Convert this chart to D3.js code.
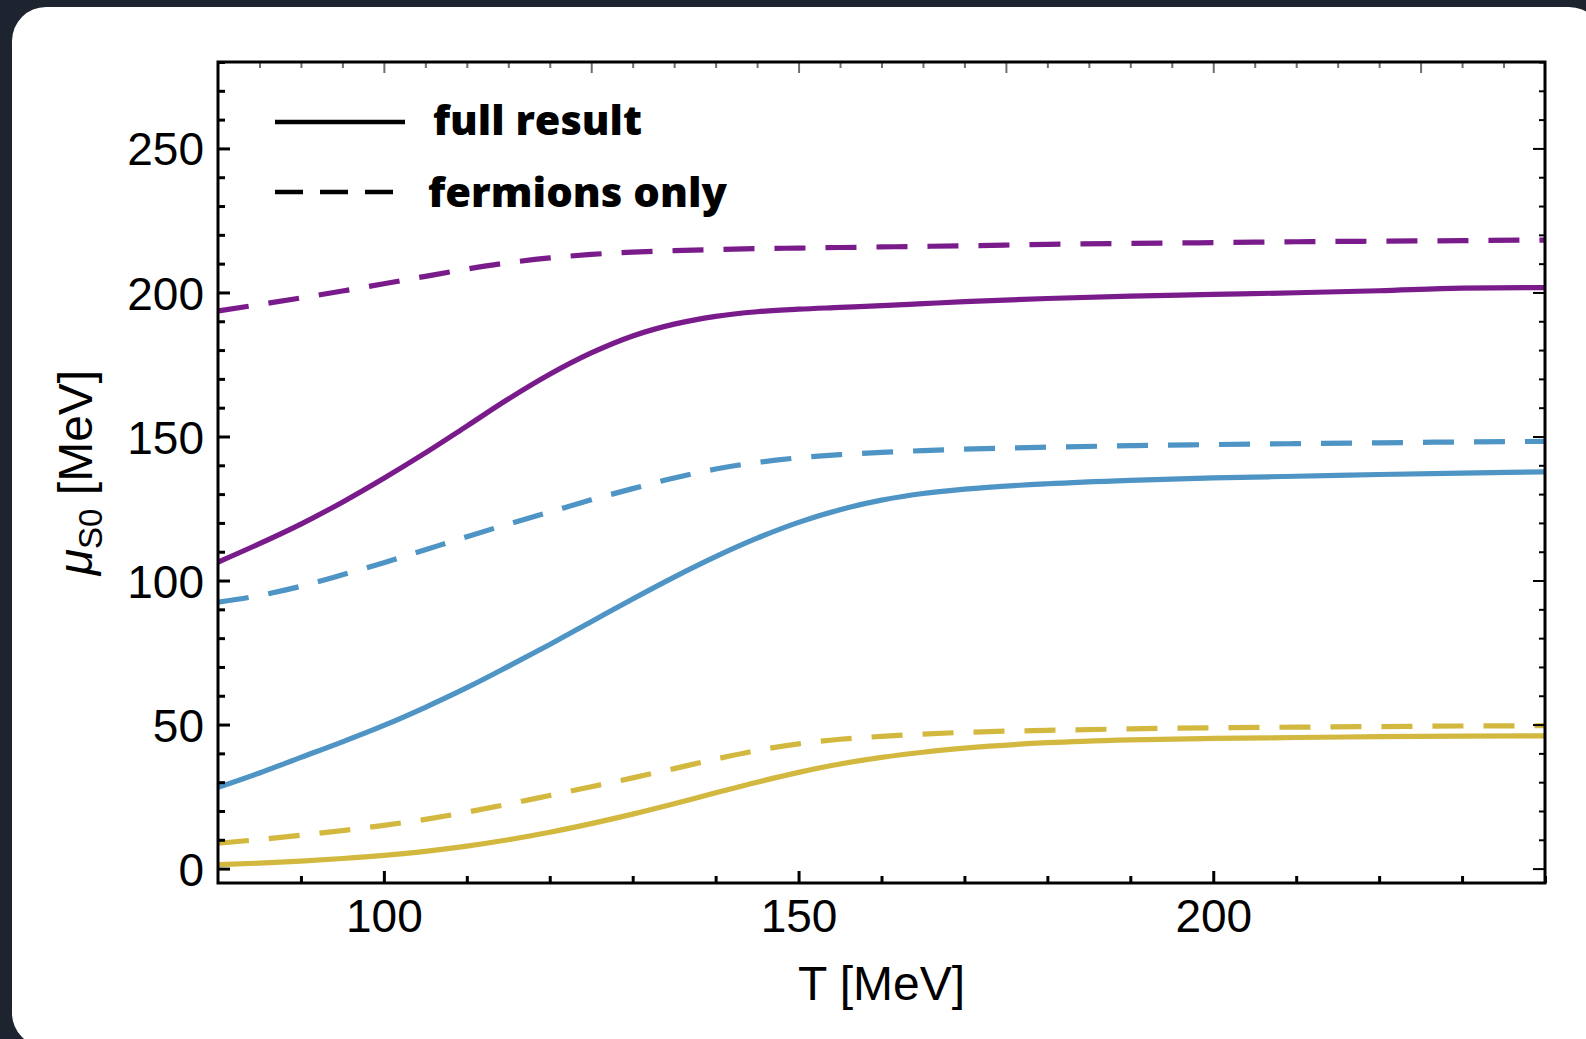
<!DOCTYPE html>
<html>
<head>
<meta charset="utf-8">
<script src="https://cdn.jsdelivr.net/npm/d3@7"></script>
<style>
  html, body { margin: 0; padding: 0; background: #1e2330; }
  svg { display: block; }
</style>
</head>
<body>
<svg id="chart" width="1586" height="1039"></svg>
<script>
// Temperature grid (MeV)
const T = [80, 85, 90, 95, 100, 105, 110, 115, 120, 125, 130, 135, 140, 145, 150,
           155, 160, 165, 170, 180, 190, 200, 210, 220, 230, 240];

// Strangeness chemical potential mu_S0 (MeV) — full result
const purpleFull = [106.4, 112.8, 119.6, 127.2, 135.5, 144.3, 153.6, 163.0, 171.6, 179.0,
                    184.9, 189.0, 191.7, 193.3, 194.2, 194.8, 195.4, 196.1, 196.8, 197.9,
                    198.7, 199.3, 199.9, 200.6, 201.5, 201.7];
const blueFull   = [28.2, 33.2, 38.6, 44.0, 49.7, 56.0, 62.8, 70.2, 77.8, 85.7,
                    93.6, 101.2, 108.3, 114.7, 120.2, 124.6, 127.9, 130.2, 131.7, 133.6,
                    134.8, 135.6, 136.2, 136.8, 137.3, 137.7];
const yellowFull = [1.4, 1.9, 2.6, 3.5, 4.6, 6.0, 7.8, 10.0, 12.6, 15.6,
                    18.9, 22.5, 26.3, 30.0, 33.4, 36.3, 38.6, 40.4, 41.8, 43.7,
                    44.7, 45.2, 45.5, 45.8, 46.0, 46.1];

// mu_S0 (MeV) — fermions only
const purpleFerm = [193.6, 195.8, 198.1, 200.5, 203.0, 205.6, 208.1, 210.3, 212.0, 213.2,
                    214.0, 214.5, 214.9, 215.2, 215.4, 215.6, 215.8, 216.0, 216.2, 216.7,
                    217.0, 217.3, 217.6, 217.8, 218.0, 218.2];
const blueFerm   = [92.5, 94.8, 98.0, 102.0, 106.2, 110.7, 115.2, 119.6, 123.8, 128.0,
                    131.9, 135.6, 138.7, 141.0, 142.6, 143.7, 144.5, 145.1, 145.6, 146.3,
                    146.8, 147.2, 147.5, 147.8, 148.1, 148.3];
const yellowFerm = [8.8, 10.1, 11.6, 13.2, 15.0, 17.1, 19.6, 22.4, 25.4, 28.4,
                    31.5, 34.7, 38.0, 41.0, 43.3, 44.9, 45.9, 46.7, 47.3, 48.0,
                    48.5, 48.9, 49.1, 49.3, 49.5, 49.6];

// Axis ticks
const xMajor = [100, 150, 200];
const xMinor = d3.range(90, 241, 10).filter(v => !xMajor.includes(v));
const xTopMajor = [100, 125, 150, 175, 200, 225];
const xTopMinor = d3.range(85, 240, 5).filter(v => !xTopMajor.includes(v));
const yMajor = [0, 50, 100, 150, 200, 250];
const yMinor = d3.range(0, 281, 10).filter(v => !yMajor.includes(v));

const legendItems = [
  { label: "full result", dashed: false },
  { label: "fermions only", dashed: true }
];

const series = [
  { values: purpleFull, color: "#7a1b8b", dashed: false },
  { values: purpleFerm, color: "#7a1b8b", dashed: true },
  { values: blueFull,   color: "#4e94c4", dashed: false },
  { values: blueFerm,   color: "#4e94c4", dashed: true },
  { values: yellowFull, color: "#d3b83f", dashed: false },
  { values: yellowFerm, color: "#d3b83f", dashed: true }
];

const svg = d3.select("#chart");

// white card
svg.append("rect")
  .attr("x", 12).attr("y", 7)
  .attr("width", 1591).attr("height", 1040)
  .attr("rx", 34).attr("ry", 34)
  .attr("fill", "#ffffff");

const L = 218, R = 1545, Tp = 62, B = 883;
const x = d3.scaleLinear().domain([80, 240]).range([L, R]);
const y = d3.scaleLinear().domain([-5, 280]).range([B, Tp]);

svg.append("clipPath").attr("id", "plot-clip")
  .append("rect").attr("x", L).attr("y", Tp).attr("width", R - L).attr("height", B - Tp);

const line = d3.line()
  .x(d => x(d[0]))
  .y(d => y(d[1]))
  .curve(d3.curveMonotoneX);

const plot = svg.append("g").attr("clip-path", "url(#plot-clip)");
plot.selectAll("path.curve")
  .data(series)
  .join("path")
  .attr("class", "curve")
  .attr("d", s => line(T.map((t, i) => [t, s.values[i]])))
  .attr("fill", "none")
  .attr("stroke", s => s.color)
  .attr("stroke-width", 5.2)
  .attr("stroke-dasharray", s => s.dashed ? "31,20" : null);

// axes with inward ticks
const font = "'Liberation Sans', Arial, Helvetica, sans-serif";

function styleAxis(g, color, width) {
  g.select(".domain").remove();
  g.selectAll(".tick line").attr("stroke", color).attr("stroke-width", width);
  g.selectAll(".tick text").attr("fill", "#000").style("font-family", font).style("font-size", "46px");
}

// left
svg.append("g").attr("transform", `translate(${L},0)`)
  .call(d3.axisLeft(y).tickValues(yMajor).tickSize(-12).tickPadding(14).tickFormat(d3.format("d")))
  .call(g => styleAxis(g, "#000", 3))
  .call(g => g.selectAll(".tick text").attr("dy", "0.36em"));
svg.append("g").attr("transform", `translate(${L},0)`)
  .call(d3.axisLeft(y).tickValues(yMinor).tickSize(-7).tickFormat(""))
  .call(g => styleAxis(g, "#000", 3));

// right
svg.append("g").attr("transform", `translate(${R},0)`)
  .call(d3.axisRight(y).tickValues(yMajor).tickSize(-12).tickFormat(""))
  .call(g => styleAxis(g, "#000", 2));
svg.append("g").attr("transform", `translate(${R},0)`)
  .call(d3.axisRight(y).tickValues(yMinor).tickSize(-6).tickFormat(""))
  .call(g => styleAxis(g, "#000", 2));

// bottom
svg.append("g").attr("transform", `translate(0,${B})`)
  .call(d3.axisBottom(x).tickValues(xMajor).tickSize(-12).tickPadding(16).tickFormat(d3.format("d")))
  .call(g => styleAxis(g, "#000", 3))
  .call(g => g.selectAll(".tick text").attr("dy", "0.71em"));
svg.append("g").attr("transform", `translate(0,${B})`)
  .call(d3.axisBottom(x).tickValues(xMinor).tickSize(-7).tickFormat(""))
  .call(g => styleAxis(g, "#000", 3));

// top
svg.append("g").attr("transform", `translate(0,${Tp})`)
  .call(d3.axisTop(x).tickValues(xTopMajor).tickSize(-11).tickFormat(""))
  .call(g => styleAxis(g, "#6e6e6e", 2));
svg.append("g").attr("transform", `translate(0,${Tp})`)
  .call(d3.axisTop(x).tickValues(xTopMinor).tickSize(-6).tickFormat(""))
  .call(g => styleAxis(g, "#6e6e6e", 2));

// frame
svg.append("rect")
  .attr("x", L).attr("y", Tp).attr("width", R - L).attr("height", B - Tp)
  .attr("fill", "none").attr("stroke", "#000").attr("stroke-width", 3);

// axis titles
svg.append("text")
  .attr("x", (L + R) / 2).attr("y", 1000)
  .attr("text-anchor", "middle")
  .style("font-family", font).style("font-size", "48px")
  .text("T [MeV]");

const yt = svg.append("text")
  .attr("transform", `translate(92,${(Tp + B) / 2}) rotate(-90)`)
  .attr("text-anchor", "middle")
  .style("font-family", font).style("font-size", "48px");
yt.append("tspan").style("font-style", "italic").text("μ");
yt.append("tspan").attr("dy", 10).style("font-size", "33px").text("S0");
yt.append("tspan").attr("dy", -10).text(" [MeV]");

// legend
const legend = svg.append("g");
legendItems.forEach((item, i) => {
  const ly = 122 + i * 70;
  legend.append("line")
    .attr("x1", 275).attr("x2", item.dashed ? 393 : 405)
    .attr("y1", ly).attr("y2", ly)
    .attr("stroke", "#000").attr("stroke-width", 4.5)
    .attr("stroke-dasharray", item.dashed ? "28,17" : null);
  legend.append("text")
    .attr("x", item.dashed ? 428 : 433).attr("y", ly + 13 + (i ? 2 : 0))
    .attr("textLength", item.dashed ? 299 : 209)
    .attr("lengthAdjust", "spacingAndGlyphs")
    .style("font-family", "'Open Sans', Lato, sans-serif")
    .style("font-weight", 800)
    .style("font-size", "41px")
    .text(item.label);
});
</script>
</body>
</html>
